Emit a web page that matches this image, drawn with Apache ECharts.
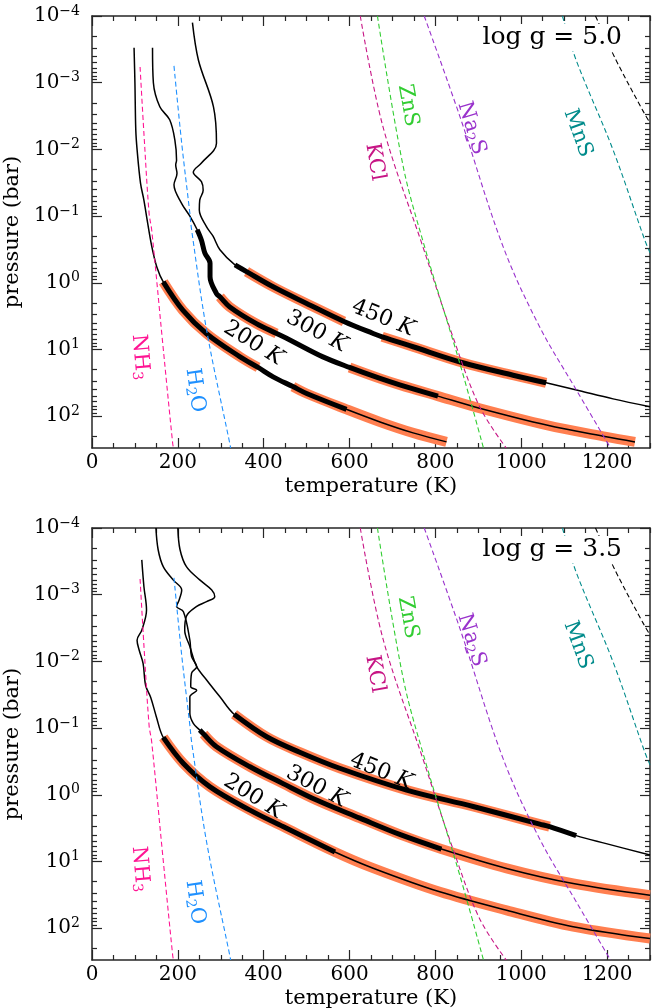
<!DOCTYPE html>
<html>
<head>
<meta charset="utf-8">
<script src="https://cdn.jsdelivr.net/npm/echarts@6/dist/echarts.min.js"></script>
<style>
html, body { margin: 0; padding: 0; background: #fff; }
#chart { width: 663px; height: 1008px; }
</style>
</head>
<body>
<div id="chart"></div>
<script>
// axis ticks
const tempTicks = [0, 200, 400, 600, 800, 1000, 1200];
const tempMinorTicks = [50, 100, 150, 250, 300, 350, 450, 500, 550, 650, 700, 750, 850, 900, 950, 1050, 1100, 1150, 1250, 1300];
const presDecades = [-4, -3, -2, -1, 0, 1, 2];
const presMin = 1e-4, presMax = 300;

// log g = 5.0 profiles (T in K, P in bar)
const top200T = [98, 100, 102, 105, 113, 121, 127, 139, 151, 166, 212, 267, 345, 387, 422, 468, 500, 593, 671, 748, 826];
const top200P = [3.0e-4, 1.0e-3, 5.1e-3, 1.0e-2, 3.2e-2, 5.8e-2, 0.10, 0.28, 0.58, 0.97, 2.6, 5.8, 12.9, 18.6, 25.7, 36, 45.7, 79, 122, 178, 243];
const top200Thick = [9, 17];
const top200Cloud = [[9, 13], [15, 20]];

const top300T = [141, 143, 158, 181, 193, 197, 195, 198, 191, 209, 228, 245, 255, 263, 275, 275, 290, 298, 321, 383, 430, 461, 538, 600, 671, 717, 806, 903, 1059, 1198, 1265];
const top300P = [3.0e-4, 1.0e-3, 2.3e-3, 3.6e-3, 7.2e-3, 1.45e-2, 1.7e-2, 2.3e-2, 3.4e-2, 6.5e-2, 0.10, 0.16, 0.23, 0.36, 0.51, 0.81, 1.45, 1.62, 2.3, 4.1, 5.75, 7.2, 12.9, 18.6, 27.2, 33.9, 50, 76, 136, 204, 243];
const top300Thick = [11, 26];
const top300Cloud = [[17, 20], [23, 30]];

const top450T = [234, 248, 283, 290, 255, 236, 255, 259, 251, 250, 267, 282, 298, 333, 360, 422, 500, 587, 655, 676, 748, 864, 981, 1058, 1136, 1214, 1300];
const top450P = [1.26e-4, 4.6e-4, 2.3e-3, 8.1e-3, 1.6e-2, 2.2e-2, 3.05e-2, 4.1e-2, 5.75e-2, 8.1e-2, 0.145, 0.20, 0.32, 0.54, 0.68, 1.15, 2.04, 3.8, 5.75, 6.45, 9.1, 15.8, 24.3, 31.6, 41.7, 55, 72];
const top450Thick = [13, 23];
const top450Cloud = [[14, 17], [19, 23]];

// log g = 3.5 profiles
const bot200T = [116, 121, 127, 116, 105, 110, 119, 125, 137, 150, 166, 213, 275, 368, 445, 566, 655, 810, 966, 1121, 1300];
const bot200P = [3.0e-4, 7.6e-4, 1.7e-3, 3.4e-3, 4.8e-3, 6.8e-3, 1.07e-2, 2.3e-2, 3.5e-2, 6.8e-2, 0.138, 0.34, 0.76, 1.7, 3.0, 7.2, 12.6, 28.5, 54, 95, 143];
const bot200Thick = [10, 15];
const bot200Cloud = [[10, 20]];

const bot300T = [149, 154, 166, 189, 209, 203, 197, 213, 228, 232, 244, 232, 230, 244, 228, 228, 236, 251, 260, 290, 368, 445, 523, 624, 720, 814, 966, 1121, 1300];
const bot300P = [1.0e-4, 2.1e-4, 3.8e-4, 6.0e-4, 8.5e-4, 1.2e-3, 1.5e-3, 1.8e-3, 4.8e-3, 8.5e-3, 1.2e-2, 1.5e-2, 2.4e-2, 2.7e-2, 3.4e-2, 6.0e-2, 8.5e-2, 0.107, 0.123, 0.19, 0.38, 0.68, 1.2, 2.24, 4.0, 6.5, 12.7, 21.4, 32];
const bot300Thick = [17, 25];
const bot300Cloud = [[18, 28]];

const bot450T = [200, 205, 220, 251, 279, 286, 267, 244, 220, 216, 228, 244, 267, 298, 331, 407, 484, 577, 733, 888, 1043, 1066, 1128, 1198, 1300];
const bot450P = [1.0e-4, 2.1e-4, 3.8e-4, 6.0e-4, 8.5e-4, 1.07e-3, 1.27e-3, 1.5e-3, 2.1e-3, 3.4e-3, 6.0e-3, 1.2e-2, 1.9e-2, 3.4e-2, 6.2e-2, 0.135, 0.23, 0.40, 0.85, 1.5, 2.75, 3.0, 4.1, 5.4, 8.0];
const bot450Thick = [14, 22];
const bot450Cloud = [[14, 21]];

// condensation curves (same in both panels)
const nh3T = [112, 121, 133, 139, 164, 188, 190];
const nh3P = [5.8e-4, 5.8e-3, 0.091, 0.16, 7.2, 257, 300];
const h2oT = [191, 209, 228, 232, 267, 321, 323];
const h2oP = [5.6e-4, 8.1e-3, 0.091, 0.16, 5.1, 257, 300];
const kclT = [625, 678, 771, 841, 903, 965];
const kclP = [1e-4, 4.6e-3, 0.29, 6.5, 72, 300];
const znsT = [665, 725, 775, 857, 912];
const znsP = [1e-4, 0.018, 0.29, 16.2, 300];
const na2sT = [774, 857, 958, 1043, 1129, 1208];
const na2sP = [1e-4, 3.2e-3, 0.29, 4.6, 41, 300];
const mnsT = [1096, 1128, 1214, 1288, 1300];
const mnsP = [1e-4, 4.6e-4, 0.0102, 0.23, 0.355];
const hotT = [1173, 1221, 1283, 1300];
const hotP = [1e-4, 4.6e-4, 2.6e-3, 4.0e-3];

const FONT = 'DejaVu Serif';
const AX = '#262626';
const ORANGE = '#ff7f50';

const yMin = Math.log10(presMin), yMax = Math.log10(presMax);
const presMinorTicks = [];
presDecades.forEach(function (n) {
  for (let k = 2; k <= 9; k++) {
    const v = n + Math.log10(k);
    if (v < yMax) presMinorTicks.push(v);
  }
});

function pts(T, P, a, b) {
  const out = [];
  for (let i = a; i <= b; i++) out.push([T[i], Math.log10(P[i])]);
  return out;
}

function xAxes(g) {
  const base = { gridIndex: g, type: 'value', min: 0, max: 1300, splitLine: { show: false } };
  const line = { show: true, onZero: false, lineStyle: { color: AX, width: 1.5 } };
  const major = { show: true, inside: true, length: 10, customValues: tempTicks, lineStyle: { color: AX, width: 1.2 } };
  const minor = { show: true, inside: true, length: 5, customValues: tempMinorTicks, lineStyle: { color: AX, width: 1.2 } };
  return [
    Object.assign({}, base, {
      position: 'bottom', axisLine: line, axisTick: major,
      name: 'temperature (K)', nameLocation: 'middle', nameGap: 28,
      nameTextStyle: { fontFamily: FONT, fontSize: 21, color: '#000' },
      axisLabel: {
        customValues: tempTicks, fontFamily: FONT, fontSize: 20, color: '#000', margin: 5,
        formatter: function (v) { return String(v); }
      }
    }),
    Object.assign({}, base, { position: 'bottom', axisLine: { show: false, onZero: false }, axisTick: minor, axisLabel: { show: false } }),
    Object.assign({}, base, { position: 'top', axisLine: line, axisTick: major, axisLabel: { show: false } }),
    Object.assign({}, base, { position: 'top', axisLine: { show: false, onZero: false }, axisTick: minor, axisLabel: { show: false } })
  ];
}

function yAxes(g) {
  const base = { gridIndex: g, type: 'value', min: yMin, max: yMax, inverse: true, splitLine: { show: false } };
  const line = { show: true, onZero: false, lineStyle: { color: AX, width: 1.5 } };
  const major = { show: true, inside: true, length: 10, customValues: presDecades, lineStyle: { color: AX, width: 1.2 } };
  const minor = { show: true, inside: true, length: 5, customValues: presMinorTicks, lineStyle: { color: AX, width: 1.2 } };
  return [
    Object.assign({}, base, {
      position: 'left', axisLine: line, axisTick: major,
      name: 'pressure (bar)', nameLocation: 'middle', nameGap: 53,
      nameTextStyle: { fontFamily: FONT, fontSize: 21, color: '#000' },
      axisLabel: {
        customValues: presDecades, margin: 12, color: '#000',
        fontFamily: FONT, fontSize: 20,
        formatter: function (v) { return '10{s|' + String(Math.round(v)).replace('-', '\u2212') + '}'; },
        rich: { s: { fontFamily: FONT, fontSize: 14, color: '#000', padding: [0, 0, 10, 0] } }
      }
    }),
    Object.assign({}, base, { position: 'left', axisLine: { show: false, onZero: false }, axisTick: minor, axisLabel: { show: false } }),
    Object.assign({}, base, { position: 'right', axisLine: line, axisTick: major, axisLabel: { show: false } }),
    Object.assign({}, base, { position: 'right', axisLine: { show: false, onZero: false }, axisTick: minor, axisLabel: { show: false } })
  ];
}

function lineSeries(g, data, color, width, z, dashed) {
  return {
    type: 'line', xAxisIndex: g * 4, yAxisIndex: g * 4, data: data,
    showSymbol: false, symbol: 'none', smooth: 0.35, silent: true, z: z,
    lineStyle: { color: color, width: width, cap: 'butt', join: 'round', type: dashed ? [5, 3] : 'solid' }
  };
}

function labelSeries(g, items) {
  return {
    type: 'scatter', xAxisIndex: g * 4, yAxisIndex: g * 4, symbolSize: 0, silent: true, z: 10,
    itemStyle: { opacity: 1 },
    data: items.map(function (it) {
      const rich = {
        s: { fontFamily: FONT, fontSize: 14, color: it.color, padding: [10, 0, 0, 0], textBorderWidth: 0 },
        k: { fontFamily: FONT, fontSize: it.size, color: it.color, fontStyle: 'italic', textBorderWidth: 0 }
      };
      return {
        value: [it.t, Math.log10(it.p)],
        label: {
          show: true, position: 'inside', formatter: it.text, rotate: it.rot,
          fontFamily: FONT, fontSize: it.size, color: it.color, textBorderWidth: 0, rich: rich
        }
      };
    })
  };
}

const condensation = [
  [nh3T, nh3P, '#ff1493'], [h2oT, h2oP, '#1e90ff'], [kclT, kclP, '#c71585'],
  [znsT, znsP, '#32cd32'], [na2sT, na2sP, '#9932cc'], [mnsT, mnsP, '#008b8b'], [hotT, hotP, '#000000']
];

const speciesLabels = [
  { text: 'NH{s|3}', t: 112, p: 13, rot: -85, color: '#ff1493', size: 21 },
  { text: 'H{s|2}O', t: 240, p: 41, rot: -82, color: '#1e90ff', size: 21 },
  { text: 'KCl', t: 659, p: 0.0155, rot: -80, color: '#c71585', size: 21 },
  { text: 'ZnS', t: 736, p: 0.0022, rot: -80, color: '#32cd32', size: 21 },
  { text: 'Na{s|2}S', t: 884, p: 0.0048, rot: -73, color: '#9932cc', size: 21 },
  { text: 'MnS', t: 1132, p: 0.0057, rot: -70, color: '#008b8b', size: 21 }
];

const panels = [
  {
    profiles: [[top200T, top200P, top200Thick, top200Cloud], [top300T, top300P, top300Thick, top300Cloud], [top450T, top450P, top450Thick, top450Cloud]],
    labels: [
      { text: '200 {k|K}', t: 376, p: 8.1, rot: -32, color: '#000', size: 22 },
      { text: '300 {k|K}', t: 523, p: 5.4, rot: -28, color: '#000', size: 22 },
      { text: '450 {k|K}', t: 678, p: 3.4, rot: -22, color: '#000', size: 22 }
    ]
  },
  {
    profiles: [[bot200T, bot200P, bot200Thick, bot200Cloud], [bot300T, bot300P, bot300Thick, bot300Cloud], [bot450T, bot450P, bot450Thick, bot450Cloud]],
    labels: [
      { text: '200 {k|K}', t: 376, p: 1.07, rot: -32, color: '#000', size: 22 },
      { text: '300 {k|K}', t: 523, p: 0.76, rot: -28, color: '#000', size: 22 },
      { text: '450 {k|K}', t: 674, p: 0.45, rot: -22, color: '#000', size: 22 }
    ]
  }
];

const series = [];
panels.forEach(function (panel, g) {
  panel.profiles.forEach(function (pr) {
    const T = pr[0], P = pr[1];
    pr[3].forEach(function (r) { series.push(lineSeries(g, pts(T, P, r[0], r[1]), ORANGE, 10, 2)); });
    series.push(lineSeries(g, pts(T, P, 0, T.length - 1), '#000', 1.5, 3));
    series.push(lineSeries(g, pts(T, P, pr[2][0], pr[2][1]), '#000', 5, 4));
  });
  condensation.forEach(function (c) {
    series.push(lineSeries(g, pts(c[0], c[1], 0, c[0].length - 1), c[2], 1.1, 5, true));
  });
  series.push(labelSeries(g, speciesLabels.concat(panel.labels)));
});

const chart = echarts.init(document.getElementById('chart'), null, { renderer: 'canvas' });
chart.setOption({
  animation: false,
  backgroundColor: '#fff',
  title: [
    { text: 'log g = 5.0', right: 38, top: 24, padding: [1, 3], backgroundColor: '#fff',
      textStyle: { fontFamily: FONT, fontSize: 25, fontWeight: 'normal', color: '#000' } },
    { text: 'log g = 3.5', right: 38, top: 536, padding: [1, 3], backgroundColor: '#fff',
      textStyle: { fontFamily: FONT, fontSize: 25, fontWeight: 'normal', color: '#000' } }
  ],
  grid: [
    { left: 92, right: 13, top: 16, height: 432, outerBoundsMode: 'none' },
    { left: 92, right: 13, top: 528, height: 432, outerBoundsMode: 'none' }
  ],
  xAxis: xAxes(0).concat(xAxes(1)),
  yAxis: yAxes(0).concat(yAxes(1)),
  series: series
});
</script>
</body>
</html>
